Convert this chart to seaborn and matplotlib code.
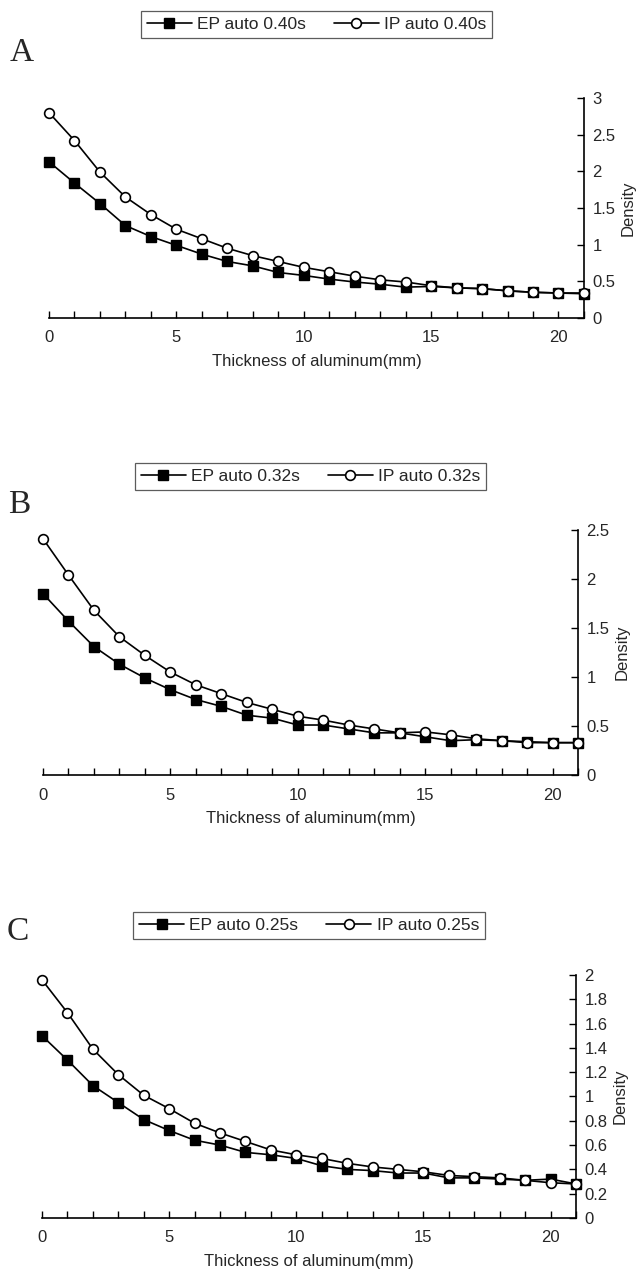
import matplotlib
matplotlib.use("Agg")
import matplotlib.pyplot as plt
import seaborn as sns
import pandas as pd
from matplotlib.ticker import MultipleLocator

# Thickness of aluminum (mm)
thickness = [0, 1, 2, 3, 4, 5, 6, 7, 8, 9, 10, 11, 12, 13, 14, 15, 16, 17, 18, 19, 20, 21]

# A: exposure 0.40s
ep_040 = [2.13, 1.84, 1.56, 1.26, 1.11, 0.99, 0.87, 0.77, 0.71, 0.62, 0.58,
          0.53, 0.49, 0.46, 0.42, 0.43, 0.41, 0.40, 0.37, 0.35, 0.34, 0.33]
ip_040 = [2.80, 2.42, 1.99, 1.65, 1.41, 1.21, 1.08, 0.95, 0.85, 0.77, 0.69,
          0.63, 0.57, 0.52, 0.49, 0.44, 0.41, 0.40, 0.37, 0.35, 0.34, 0.34]

# B: exposure 0.32s
ep_032 = [1.85, 1.57, 1.31, 1.13, 0.99, 0.87, 0.77, 0.70, 0.61, 0.58, 0.51,
          0.51, 0.47, 0.43, 0.43, 0.39, 0.35, 0.36, 0.35, 0.34, 0.33, 0.33]
ip_032 = [2.41, 2.04, 1.68, 1.41, 1.22, 1.05, 0.92, 0.83, 0.74, 0.67, 0.60,
          0.56, 0.51, 0.47, 0.43, 0.44, 0.41, 0.37, 0.35, 0.33, 0.33, 0.33]

# C: exposure 0.25s
ep_025 = [1.50, 1.30, 1.09, 0.95, 0.81, 0.72, 0.64, 0.60, 0.54, 0.52, 0.49,
          0.43, 0.40, 0.39, 0.37, 0.37, 0.33, 0.33, 0.32, 0.31, 0.32, 0.28]
ip_025 = [1.96, 1.69, 1.39, 1.18, 1.01, 0.90, 0.78, 0.70, 0.63, 0.56, 0.52,
          0.49, 0.45, 0.42, 0.40, 0.38, 0.35, 0.34, 0.33, 0.31, 0.29, 0.28]

letters = ["A", "B", "C"]
exposures = ["0.40s", "0.32s", "0.25s"]
y_max = [3, 2.5, 2]
y_step = [0.5, 0.5, 0.2]

sns.set_theme(style="white")
plt.rcParams["font.family"] = ["Liberation Sans", "DejaVu Sans"]

fig = plt.figure(figsize=(6.43, 12.81), dpi=100)

# axes boxes in figure fractions [left, bottom, width, height]
boxes = [[0.0762, 0.7518, 0.8320, 0.1717],
         [0.0669, 0.3950, 0.8320, 0.1913],
         [0.0653, 0.0492, 0.8305, 0.1897]]
legend_y = [1 - 11 / 1281, 1 - 463 / 1281, 1 - 912 / 1281]
letter_pos = [(22, 53), (19, 505), (18, 932)]

series = [(ep_040, ip_040), (ep_032, ip_032), (ep_025, ip_025)]

for i, (ep, ip) in enumerate(series):
    ax = fig.add_axes(boxes[i])
    df = pd.DataFrame({"thickness": thickness, "EP": ep, "IP": ip})

    sns.lineplot(data=df, x="thickness", y="EP", ax=ax, color="black", lw=1.2,
                 marker="s", markersize=7, markerfacecolor="black",
                 markeredgecolor="black", markeredgewidth=1,
                 label="EP auto " + exposures[i], clip_on=False, zorder=3)
    sns.lineplot(data=df, x="thickness", y="IP", ax=ax, color="black", lw=1.2,
                 marker="o", markersize=7, markerfacecolor="white",
                 markeredgecolor="black", markeredgewidth=1.2,
                 label="IP auto " + exposures[i], clip_on=False, zorder=4)

    ax.set_xlim(0, 21)
    ax.set_ylim(0, y_max[i])

    # spines: only bottom and right
    for side in ["top", "left"]:
        ax.spines[side].set_visible(False)
    for side in ["bottom", "right"]:
        ax.spines[side].set_color("black")
        ax.spines[side].set_linewidth(1.2)

    ax.yaxis.tick_right()
    ax.yaxis.set_label_position("right")
    ax.xaxis.set_major_locator(MultipleLocator(5))
    ax.xaxis.set_minor_locator(MultipleLocator(1))
    ax.yaxis.set_major_locator(MultipleLocator(y_step[i]))
    ax.yaxis.set_major_formatter(matplotlib.ticker.FuncFormatter(
        lambda v, p: ("%g" % round(v, 2))))
    ax.tick_params(axis="x", which="both", direction="in", length=5, width=1,
                   color="black", labelsize=12, pad=9, bottom=True, top=False)
    ax.tick_params(axis="y", which="major", direction="in", length=5, width=1,
                   color="black", labelsize=12, pad=6, right=True, left=False)

    ax.set_xlabel("Thickness of aluminum(mm)", fontsize=12, labelpad=6)
    ax.set_ylabel("Density", fontsize=12, labelpad=4)
    ax.grid(False)

    # legend centred over the plot area, near the top of each panel
    cx = boxes[i][0] + boxes[i][2] / 2
    leg = ax.legend(loc="upper center", bbox_to_anchor=(cx, legend_y[i]),
                    bbox_transform=fig.transFigure, ncol=2, fontsize=12.5,
                    frameon=True, fancybox=False, edgecolor="#333333",
                    handlelength=2.6, handletextpad=0.3, columnspacing=1.6,
                    borderpad=0.35, borderaxespad=0)
    leg.get_frame().set_linewidth(0.9)

    fig.text(letter_pos[i][0] / 643, 1 - letter_pos[i][1] / 1281, letters[i],
             fontsize=24, family=["Liberation Serif", "DejaVu Serif"],
             ha="center", va="center")

fig.savefig("out.png", dpi=100)
